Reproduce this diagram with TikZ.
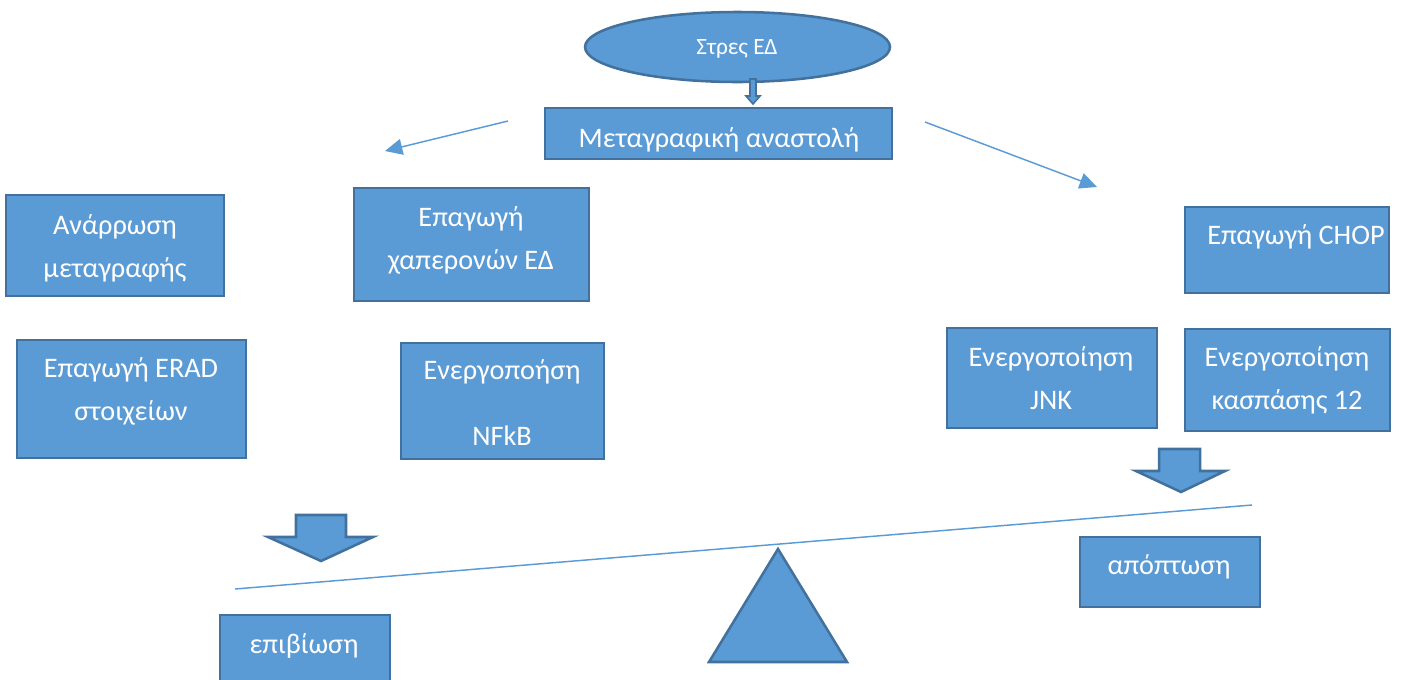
\documentclass[tikz,border=0pt]{standalone}
\usepackage{fontspec}
\setmainfont{Carlito}
\usetikzlibrary{arrows.meta,shapes.geometric,fit}
\definecolor{boxfill}{HTML}{5B9BD5}
\definecolor{boxline}{HTML}{41719C}
\begin{document}
\begin{tikzpicture}[x=0.75pt,y=-0.75pt,
  box/.style={draw=boxline, fill=boxfill, line width=1.9pt, inner sep=0pt},
  lbl/.style={text=white, font=\fontsize{21.2}{26}\selectfont, anchor=base, inner sep=0pt},
  thin/.style={draw=boxfill, line width=1.1pt},
  thinarrow/.style={thin, -{Triangle[length=13pt,width=12pt]}},
  blockarrow/.style={draw=boxline, fill=boxfill, line width=1.9pt, line join=miter}]
\useasboundingbox (0,0) rectangle (1409,679);

% stress source and the first response
\node[box, ellipse, minimum width=228.75pt, minimum height=52.5pt] (stress) at (737.5,47) {};
\node[lbl, font=\fontsize{17.5}{20}\selectfont] (stresst) at (737,54) {Στρες ΕΔ};
\node[box, fit={(545,108) (892,159)}] (inhib) {};
\node[lbl] (inhibt) at (719,147) {Μεταγραφική αναστολή};

% small hollow arrow from the ellipse to the box
\draw[draw=boxline, fill=boxfill, line width=1.2pt]
  (750,79) -- (756,79) -- (756,96) -- (760,96) -- (753,104) -- (746,96) -- (750,96) -- cycle;

% thin arrows branching left and right
\coordinate (lstart) at (508,121);
\coordinate (lend) at (385,151);
\coordinate (rstart) at (925,122);
\coordinate (rend) at (1097,187);
\draw[thinarrow] (lstart) -- (lend);
\draw[thinarrow] (rstart) -- (rend);

% survival side
\node[box, fit={(6,195) (224,296)}] (recov) {};
\node[lbl] at (115,234) {Ανάρρωση};
\node[lbl] at (115,277) {μεταγραφής};

\node[box, fit={(354,188) (589,301)}] (chap) {};
\node[lbl] at (471,226) {Επαγωγή};
\node[lbl] at (471,269) {χαπερονών ΕΔ};

\node[box, fit={(17,340) (246,458)}] (erad) {};
\node[lbl] at (131,377) {Επαγωγή ERAD};
\node[lbl] at (131,420) {στοιχείων};

\node[box, fit={(401,343) (604,459)}] (nfkb) {};
\node[lbl] at (502,379) {Ενεργοποήση};
\node[lbl] at (502,445) {NFkB};

% apoptosis side
\node[box, fit={(1185,207) (1389,293)}] (chop) {};
\node[lbl] at (1296,244) {Επαγωγή CHOP};

\node[box, fit={(947,328) (1157,428)}] (jnk) {};
\node[lbl] at (1051,366) {Ενεργοποίηση};
\node[lbl] at (1051,409) {JNK};

\node[box, fit={(1185,329) (1390,431)}] (casp) {};
\node[lbl] at (1287,366) {Ενεργοποίηση};
\node[lbl] at (1287,409) {κασπάσης 12};

% block arrows
\draw[blockarrow] (296,515) -- (346,515) -- (346,537) -- (373,537) -- (321,561)
  -- (268,537) -- (296,537) -- cycle;
\draw[blockarrow] (1159,449) -- (1200,449) -- (1200,471) -- (1225,471) -- (1181,492)
  -- (1136,471) -- (1159,471) -- cycle;

% the balance
\coordinate (beaml) at (235,589);
\coordinate (beamr) at (1252,505);
\draw[thin] (beaml) -- (beamr);
\draw[blockarrow] (778,549) -- (847,662) -- (709,662) -- cycle;

\node[box, fit={(1080,537) (1260,607)}] (apop) {};
\node[lbl] at (1169,574) {απόπτωση};

\node[box, fit={(220,615) (390,690)}] (surv) {};
\node[lbl] at (304,653) {επιβίωση};
\end{tikzpicture}
\end{document}
